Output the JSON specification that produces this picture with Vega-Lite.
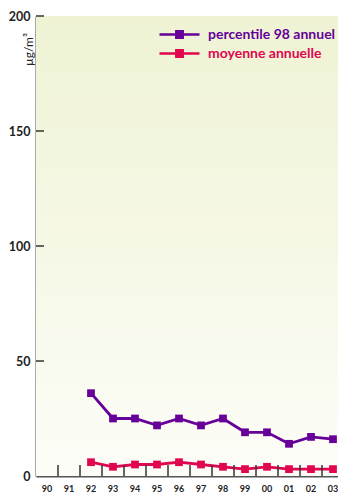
{
  "$schema": "https://vega.github.io/schema/vega-lite/v6.json",
  "width": 308,
  "height": 460,
  "autosize": {"type": "none"},
  "padding": {"left": 36, "top": 16, "right": 0, "bottom": 21},
  "config": {
    "view": {"stroke": null},
    "font": "Lato",
    "axis": {"grid": false, "zindex": 1, "ticks": false, "tickSize": 0, "domainColor": "#555555", "domainWidth": 2, "labelColor": "#222222", "labelFontWeight": "bold"}
  },
  "datasets": {
    "series": [
      {"year": "92", "serie": "percentile 98 annuel", "value": 36},
      {"year": "93", "serie": "percentile 98 annuel", "value": 25},
      {"year": "94", "serie": "percentile 98 annuel", "value": 25},
      {"year": "95", "serie": "percentile 98 annuel", "value": 22},
      {"year": "96", "serie": "percentile 98 annuel", "value": 25},
      {"year": "97", "serie": "percentile 98 annuel", "value": 22},
      {"year": "98", "serie": "percentile 98 annuel", "value": 25},
      {"year": "99", "serie": "percentile 98 annuel", "value": 19},
      {"year": "00", "serie": "percentile 98 annuel", "value": 19},
      {"year": "01", "serie": "percentile 98 annuel", "value": 14},
      {"year": "02", "serie": "percentile 98 annuel", "value": 17},
      {"year": "03", "serie": "percentile 98 annuel", "value": 16},
      {"year": "92", "serie": "moyenne annuelle", "value": 6},
      {"year": "93", "serie": "moyenne annuelle", "value": 4},
      {"year": "94", "serie": "moyenne annuelle", "value": 5},
      {"year": "95", "serie": "moyenne annuelle", "value": 5},
      {"year": "96", "serie": "moyenne annuelle", "value": 6},
      {"year": "97", "serie": "moyenne annuelle", "value": 5},
      {"year": "98", "serie": "moyenne annuelle", "value": 4},
      {"year": "99", "serie": "moyenne annuelle", "value": 3},
      {"year": "00", "serie": "moyenne annuelle", "value": 4},
      {"year": "01", "serie": "moyenne annuelle", "value": 3},
      {"year": "02", "serie": "moyenne annuelle", "value": 3},
      {"year": "03", "serie": "moyenne annuelle", "value": 3}
    ],
    "xticks": [
      {"year": "91"}, {"year": "92"}, {"year": "93"}, {"year": "94"}, {"year": "95"}, {"year": "96"}, {"year": "97"},
      {"year": "98"}, {"year": "99"}, {"year": "00"}, {"year": "01"}, {"year": "02"}, {"year": "03"}
    ],
    "yticks": [{"year": "90", "value": 50}, {"year": "90", "value": 100}, {"year": "90", "value": 150}, {"year": "90", "value": 200}]
  },
  "layer": [
    {
      "data": {"values": [{}]},
      "mark": {"type": "rect", "color": {"gradient": "linear", "x1": 0, "y1": 0, "x2": 0, "y2": 1, "stops": [{"offset": 0, "color": "#eff3d4"}, {"offset": 1, "color": "#fdfdf8"}]}},
      "encoding": {}
    },
    {
      "data": {"name": "series"},
      "mark": {"type": "line", "strokeWidth": 2.8},
      "encoding": {
        "x": {"field": "year", "type": "ordinal", "scale": {"domain": ["90","91","92","93","94","95","96","97","98","99","00","01","02","03"], "paddingInner": 0, "paddingOuter": 0},
          "axis": {"title": null, "bandPosition": 0.5, "labelAlign": "center", "labelPadding": 8, "labelAngle": 0, "labelFontSize": 9}},
        "y": {"field": "value", "type": "quantitative", "scale": {"domain": [0, 200]},
          "axis": {"values": [0, 50, 100, 150, 200], "labelPadding": 6, "labelFontSize": 12.5,
            "title": "µg/m³", "titleX": -8, "titleY": 33, "titleAngle": -90, "titleAlign": "center", "titleBaseline": "middle", "titleFontSize": 12, "titleFontWeight": "normal", "titleColor": "#222222"}},
        "color": {"field": "serie", "type": "nominal", "scale": {"domain": ["percentile 98 annuel", "moyenne annuelle"], "range": ["#660099", "#e0064f"]},
          "legend": {"title": null, "orient": "none", "legendX": 134, "legendY": 9, "symbolType": "M-2.5,0H2.5M-0.4,-0.4H0.4V0.4H-0.4Z", "symbolSize": 256, "symbolStrokeWidth": 2.5, "labelOffset": 19, "labelFontSize": 14, "labelFontWeight": "bold", "rowPadding": 1,
            "encode": {"labels": {"update": {"fill": {"scale": "color", "field": "value"}}}, "symbols": {"update": {"fill": {"scale": "color", "field": "value"}, "stroke": {"scale": "color", "field": "value"}, "opacity": {"value": 1}}}}}}
      }
    },
    {
      "data": {"name": "xticks"},
      "mark": {"type": "rule", "color": "#333333", "strokeWidth": 1.5},
      "encoding": {
        "x": {"field": "year", "type": "ordinal", "bandPosition": 0},
        "y": {"datum": 0, "type": "quantitative"},
        "y2": {"datum": 4.8}
      }
    },
    {
      "data": {"name": "yticks"},
      "mark": {"type": "tick", "orient": "horizontal", "color": "#333333", "opacity": 1, "size": 8, "thickness": 1.5, "xOffset": -7},
      "encoding": {
        "x": {"field": "year", "type": "ordinal"},
        "y": {"field": "value", "type": "quantitative"}
      }
    },
    {
      "data": {"name": "series"},
      "mark": {"type": "point", "shape": "square", "filled": true, "size": 60, "opacity": 1},
      "encoding": {
        "x": {"field": "year", "type": "ordinal"},
        "y": {"field": "value", "type": "quantitative"},
        "color": {"field": "serie", "type": "nominal"}
      }
    }
  ]
}
